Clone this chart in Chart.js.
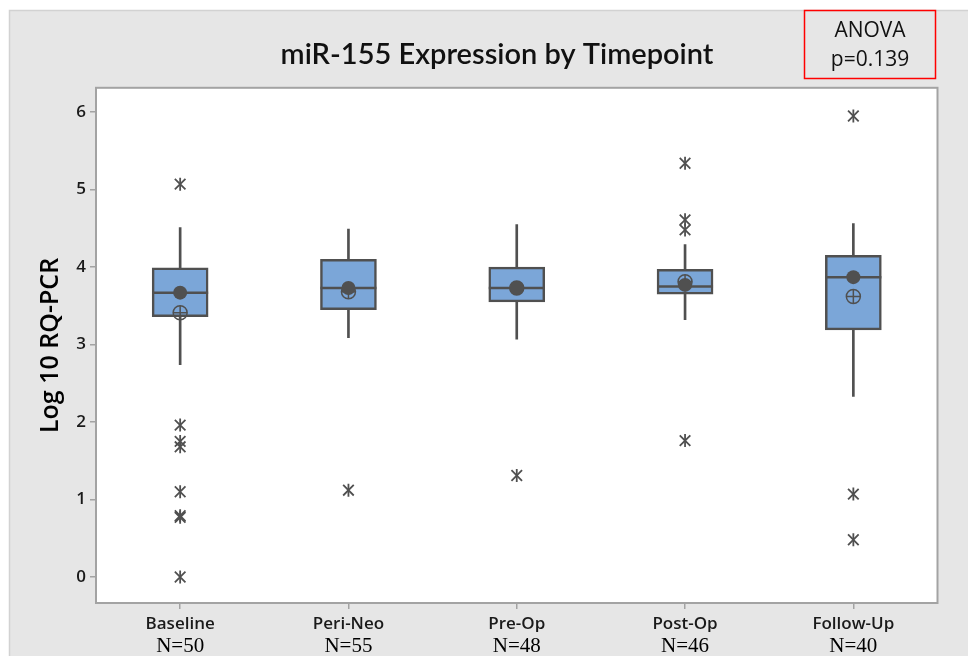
<!DOCTYPE html>
<html><head><meta charset="utf-8">
<script src="https://cdn.jsdelivr.net/npm/chart.js@4.4.1/dist/chart.umd.min.js"></script>
<style>html,body{margin:0;padding:0;background:#fff;}canvas{display:block;}</style>
</head><body>
<canvas id="c" width="968" height="656"></canvas>
<script>
// ---- data ----
const categories = ['Baseline', 'Peri-Neo', 'Pre-Op', 'Post-Op', 'Follow-Up'];
const nLabels = ['N=50', 'N=55', 'N=48', 'N=46', 'N=40'];
const q1 = [3.36, 3.45, 3.55, 3.65, 3.19];
const q3 = [3.99, 4.10, 4.00, 3.97, 4.15];
const medians = [3.67, 3.73, 3.73, 3.75, 3.87];
const whiskerLow = [2.74, 3.09, 3.07, 3.32, 2.33];
const whiskerHigh = [4.51, 4.49, 4.55, 4.29, 4.56];
const meanDot = [3.67, 3.73, 3.73, 3.77, 3.87];
const meanSymbol = [3.41, 3.68, 3.73, 3.81, 3.62];
const outliersBaseline = [5.07, 1.96, 1.75, 1.68, 1.10, 0.79, 0.77, 0.00];
const outliersPeriNeo = [1.12];
const outliersPreOp = [1.31];
const outliersPostOp = [5.34, 4.61, 4.48, 1.76];
const outliersFollowUp = [5.95, 1.07, 0.48];
const yTicks = [0, 1, 2, 3, 4, 5, 6];
const titleText = 'miR-155 Expression by Timepoint';
const yTitle = 'Log 10 RQ-PCR';
const anovaLines = ['ANOVA', 'p=0.139'];

// ---- build datasets ----
const INK = '#505050';
const allOutliers = [outliersBaseline, outliersPeriNeo, outliersPreOp, outliersPostOp, outliersFollowUp];
const outlierPoints = [];
allOutliers.forEach((list, i) => list.forEach(v => outlierPoints.push({ x: categories[i], y: v })));

const pointSet = (data, extra) => Object.assign({
  type: 'line', data: data, showLine: false, pointBorderColor: INK,
  pointBackgroundColor: 'rgba(0,0,0,0)', borderColor: INK
}, extra);

const bgPlugin = {
  id: 'bgPlugin',
  beforeDraw(chart) {
    const { ctx, chartArea: a } = chart;
    ctx.save();
    ctx.fillStyle = '#ffffff';
    ctx.fillRect(0, 0, chart.width, chart.height);
    ctx.fillStyle = '#e6e6e6';
    ctx.fillRect(9, 10, chart.width - 9, chart.height - 10);
    ctx.strokeStyle = '#d2d2d2';
    ctx.lineWidth = 1.5;
    ctx.strokeRect(9.5, 10.5, chart.width, chart.height);
    ctx.fillStyle = '#ffffff';
    ctx.fillRect(a.left, a.top, a.right - a.left, a.bottom - a.top);
    ctx.restore();
  },
  afterDraw(chart) {
    const { ctx, chartArea: a } = chart;
    ctx.save();
    ctx.strokeStyle = '#a3a3a3';
    ctx.lineWidth = 2;
    ctx.strokeRect(a.left, a.top, a.right - a.left, a.bottom - a.top);
    // ANOVA annotation box
    ctx.strokeStyle = '#ff0000';
    ctx.lineWidth = 1.5;
    ctx.strokeRect(804.5, 10.5, 131, 68);
    ctx.fillStyle = '#111111';
    ctx.font = '21px "Open Sans"';
    ctx.textAlign = 'center';
    ctx.textBaseline = 'middle';
    ctx.fillText(anovaLines[0], 870, 31);
    ctx.fillText(anovaLines[1], 870, 60);
    ctx.restore();
  }
};

new Chart(document.getElementById('c'), {
  type: 'bar',
  data: {
    labels: categories,
    datasets: [
      pointSet(outlierPoints, { pointStyle: 'crossRot', pointRadius: 7.5, pointBorderWidth: 1.8, order: 0 }),
      pointSet(outlierPoints, { pointStyle: 'line', rotation: 90, pointRadius: 6.5, pointBorderWidth: 1.8, order: 0 }),
      pointSet(meanDot, { pointStyle: 'circle', pointRadius: 7, pointBackgroundColor: INK, pointBorderWidth: 0, order: 1 }),
      pointSet(meanSymbol, { pointStyle: 'circle', pointRadius: 7, pointBorderWidth: 1.5, order: 2 }),
      pointSet(meanSymbol, { pointStyle: 'cross', pointRadius: 7, pointBorderWidth: 1.5, order: 2 }),
      pointSet(medians, { pointStyle: 'line', pointRadius: 28, pointBorderWidth: 2.5, order: 3 }),
      { type: 'bar', data: q1.map((v, i) => [v, q3[i]]), backgroundColor: '#7ba6d8', borderColor: INK,
        borderWidth: 2.5, borderSkipped: false, barThickness: 56, grouped: false, order: 4 },
      { type: 'bar', data: q3.map((v, i) => [v, whiskerHigh[i]]), backgroundColor: INK,
        borderWidth: 0, barThickness: 2, grouped: false, order: 5 },
      { type: 'bar', data: whiskerLow.map((v, i) => [v, q1[i]]), backgroundColor: INK,
        borderWidth: 0, barThickness: 2, grouped: false, order: 5 }
    ]
  },
  options: {
    responsive: false,
    devicePixelRatio: 1,
    animation: false,
    events: [],
    layout: { padding: { left: 30, right: 4, top: 10, bottom: 0 } },
    plugins: {
      legend: { display: false },
      tooltip: { enabled: false },
      title: {
        display: true, text: titleText, color: '#111111',
        font: { family: 'Lato', size: 29, weight: '600' },
        padding: { top: 27, bottom: 16 }
      }
    },
    scales: {
      x: {
        type: 'category', offset: true,
        grid: { display: true, drawOnChartArea: false, drawTicks: true, tickLength: 6, color: '#a3a3a3', lineWidth: 1.5, offset: false },
        border: { display: false },
        ticks: { font: { family: 'Open Sans', size: 17, weight: '600' }, color: '#1a1a1a', padding: 5, maxRotation: 0 },
        afterFit: s => { s.height = 29; }
      },
      x2: {
        type: 'category', labels: nLabels, position: 'bottom', offset: true, weight: 1,
        grid: { display: false, drawTicks: false, tickLength: 0 }, border: { display: false },
        ticks: { font: { family: 'Liberation Serif', size: 21 }, color: '#000000', padding: 2, maxRotation: 0 },
        afterFit: s => { s.height = 24; }
      },
      y: {
        min: -0.336, max: 6.314,
        afterBuildTicks: s => { s.ticks = yTicks.map(v => ({ value: v })); },
        afterFit: s => { s.width = 66; },
        grid: { display: true, drawOnChartArea: false, drawTicks: true, tickLength: 6, color: '#a3a3a3', lineWidth: 1.5 },
        border: { display: false },
        ticks: { font: { family: 'Open Sans', size: 17, weight: '600' }, color: '#1a1a1a', padding: 4 },
        title: { display: true, text: yTitle, color: '#000000', font: { family: 'Open Sans', size: 25, weight: '600' }, padding: { top: 6, bottom: 0 } }
      },
      y2: {
        position: 'right', display: true,
        grid: { display: false }, border: { display: false }, ticks: { display: false },
        afterFit: s => { s.width = 26; }
      }
    }
  },
  plugins: [bgPlugin]
});
</script>
</body></html>
